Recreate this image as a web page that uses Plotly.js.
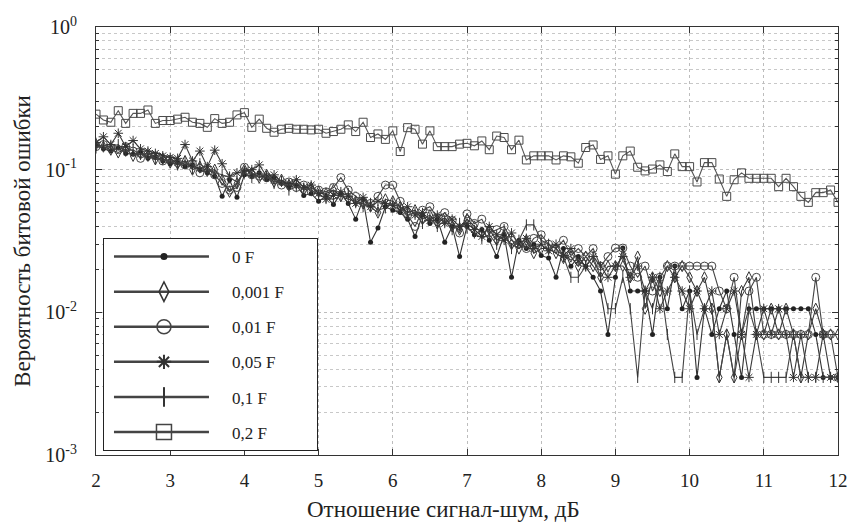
<!DOCTYPE html>
<html>
<head>
<meta charset="utf-8">
<script src="https://cdn.plot.ly/plotly-3.0.1.min.js"></script>
<style>html,body{margin:0;padding:0;background:#fff;}#chart{width:850px;height:524px;}</style>
</head>
<body>
<div id="chart"></div>
<script>
// SNR, dB
const snr = [2.0,2.1,2.2,2.3,2.4,2.5,2.6,2.7,2.8,2.9,3.0,3.1,3.2,3.3,3.4,3.5,3.6,3.7,3.8,3.9,
  4.0,4.1,4.2,4.3,4.4,4.5,4.6,4.7,4.8,4.9,5.0,5.1,5.2,5.3,5.4,5.5,5.6,5.7,5.8,5.9,
  6.0,6.1,6.2,6.3,6.4,6.5,6.6,6.7,6.8,6.9,7.0,7.1,7.2,7.3,7.4,7.5,7.6,7.7,7.8,7.9,
  8.0,8.1,8.2,8.3,8.4,8.5,8.6,8.7,8.8,8.9,9.0,9.1,9.2,9.3,9.4,9.5,9.6,9.7,9.8,9.9,
  10.0,10.1,10.2,10.3,10.4,10.5,10.6,10.7,10.8,10.9,11.0,11.1,11.2,11.3,11.4,11.5,11.6,11.7,11.8,11.9,12.0];

const seriesNames = ['0 F','0,001 F','0,01 F','0,05 F','0,1 F','0,2 F'];
const xTitle = 'Отношение сигнал-шум, дБ';
const yTitle = 'Вероятность битовой ошибки';

const ber_0 = [0.148,0.140,0.135,0.142,0.130,0.128,0.132,0.120,0.122,0.115,0.110,
  0.112,0.105,0.108,0.100,0.095,0.090,0.065,0.085,0.064,0.092,
  0.090,0.095,0.085,0.088,0.080,0.075,0.078,0.066,0.068,0.060,
  0.065,0.057,0.068,0.058,0.045,0.062,0.031,0.039,0.055,0.052,
  0.050,0.045,0.034,0.048,0.042,0.045,0.031,0.040,0.0246,0.040,
  0.035,0.038,0.032,0.0246,0.035,0.0176,0.032,0.028,0.030,0.025,
  0.024,0.0176,0.028,0.021,0.0246,0.021,0.0176,0.0141,0.0070,0.0176,
  0.0282,0.0141,0.0141,0.0141,0.0070,0.0176,0.0106,0.0211,0.0106,0.0141,
  0.0035,0.0106,0.0070,0.0106,0.0141,0.0070,0.0035,0.0106,0.0106,0.0106,
  0.0106,0.0106,0.0106,0.0106,0.0106,0.0106,0.0070,0.0035,0.0035,0.0035];

const ber_0001 = [0.150,0.145,0.138,0.132,0.140,0.125,0.130,0.125,0.118,0.120,0.112,
  0.110,0.115,0.100,0.105,0.098,0.100,0.085,0.070,0.080,0.100,
  0.095,0.088,0.092,0.082,0.085,0.078,0.080,0.072,0.075,0.070,
  0.068,0.072,0.065,0.062,0.060,0.058,0.055,0.050,0.062,0.060,
  0.055,0.050,0.052,0.045,0.048,0.042,0.046,0.040,0.038,0.045,
  0.040,0.036,0.038,0.032,0.034,0.030,0.028,0.032,0.026,0.028,
  0.028,0.026,0.024,0.0246,0.021,0.0246,0.0211,0.0176,0.021,0.0211,
  0.0211,0.0176,0.0246,0.0106,0.0176,0.0141,0.0211,0.0176,0.0211,0.0176,
  0.0141,0.0176,0.0106,0.0035,0.0070,0.0035,0.0141,0.0176,0.0070,0.0070,
  0.0106,0.0070,0.0106,0.0070,0.0035,0.0070,0.0106,0.0070,0.0070,0.0070];

const ber_001 = [0.145,0.150,0.142,0.138,0.145,0.135,0.120,0.128,0.125,0.115,0.118,
  0.112,0.108,0.110,0.095,0.102,0.092,0.080,0.072,0.075,0.104,
  0.092,0.090,0.088,0.085,0.078,0.082,0.075,0.078,0.070,0.072,
  0.070,0.075,0.088,0.072,0.065,0.060,0.058,0.065,0.078,0.078,
  0.060,0.048,0.040,0.052,0.055,0.046,0.050,0.044,0.036,0.049,
  0.042,0.045,0.036,0.038,0.040,0.032,0.030,0.028,0.033,0.035,
  0.030,0.028,0.032,0.025,0.028,0.0246,0.028,0.0211,0.0246,0.0282,
  0.0282,0.0211,0.0176,0.0211,0.0141,0.0176,0.0211,0.0211,0.0211,0.0211,
  0.0211,0.0211,0.0211,0.0141,0.0106,0.0176,0.0070,0.0141,0.0176,0.0070,
  0.0070,0.0070,0.0070,0.0070,0.0070,0.0070,0.0176,0.0070,0.0070,0.0035];

const ber_005 = [0.155,0.170,0.150,0.180,0.145,0.160,0.140,0.135,0.130,0.125,0.122,
  0.120,0.150,0.115,0.135,0.105,0.137,0.110,0.090,0.095,0.098,
  0.100,0.108,0.090,0.092,0.082,0.080,0.085,0.075,0.078,0.068,
  0.062,0.066,0.070,0.065,0.058,0.064,0.055,0.060,0.058,0.056,
  0.052,0.055,0.048,0.050,0.044,0.048,0.042,0.045,0.040,0.042,
  0.038,0.034,0.040,0.035,0.032,0.036,0.030,0.033,0.028,0.030,
  0.027,0.030,0.025,0.028,0.023,0.0211,0.0246,0.0211,0.0176,0.0211,
  0.0246,0.0176,0.0211,0.0141,0.0176,0.0106,0.0141,0.0176,0.0141,0.0106,
  0.0141,0.0106,0.0141,0.0070,0.0106,0.0141,0.0070,0.0035,0.0070,0.0106,
  0.0070,0.0106,0.0070,0.0035,0.0070,0.0035,0.0035,0.0070,0.0035,0.0035];

const ber_01 = [0.142,0.148,0.145,0.150,0.135,0.138,0.128,0.130,0.120,0.118,0.115,
  0.108,0.112,0.102,0.110,0.100,0.095,0.092,0.088,0.082,0.095,
  0.088,0.092,0.090,0.080,0.083,0.072,0.076,0.074,0.072,0.066,
  0.064,0.062,0.066,0.068,0.060,0.055,0.058,0.052,0.054,0.058,
  0.054,0.048,0.050,0.042,0.046,0.040,0.044,0.038,0.042,0.039,
  0.036,0.033,0.035,0.030,0.038,0.028,0.032,0.041,0.041,0.032,
  0.030,0.028,0.0246,0.0176,0.0176,0.0211,0.0246,0.0176,0.0106,0.0106,
  0.0176,0.0106,0.0035,0.0141,0.0106,0.0176,0.0070,0.0035,0.0035,0.0141,
  0.0070,0.0106,0.0106,0.0035,0.0070,0.0035,0.0070,0.0106,0.0070,0.0035,
  0.0035,0.0035,0.0035,0.0070,0.0035,0.0035,0.0035,0.0035,0.0035,0.0035];

const ber_02 = [0.245,0.223,0.215,0.259,0.211,0.248,0.248,0.262,0.211,0.221,0.221,
  0.226,0.233,0.215,0.211,0.198,0.228,0.211,0.215,0.242,0.251,
  0.198,0.226,0.195,0.183,0.192,0.195,0.192,0.192,0.190,0.192,
  0.180,0.185,0.192,0.206,0.185,0.215,0.168,0.178,0.163,0.187,
  0.134,0.197,0.192,0.151,0.187,0.145,0.145,0.145,0.151,0.153,
  0.147,0.159,0.138,0.172,0.168,0.138,0.161,0.117,0.125,0.125,
  0.125,0.117,0.125,0.123,0.111,0.143,0.149,0.118,0.125,0.093,
  0.125,0.135,0.104,0.098,0.101,0.108,0.097,0.129,0.105,0.105,
  0.082,0.112,0.112,0.086,0.065,0.085,0.095,0.087,0.087,0.087,
  0.087,0.076,0.087,0.076,0.065,0.059,0.069,0.069,0.072,0.059];

const xTickVals = [2,3,4,5,6,7,8,9,10,11,12];
const yTickVals = [0.001,0.01,0.1,1];
const yTickText = ['10<sup>-3</sup>','10<sup>-2</sup>','10<sup>-1</sup>','10<sup>0</sup>'];
const yMinorVals = [0.002,0.003,0.004,0.005,0.006,0.007,0.008,0.009,
  0.02,0.03,0.04,0.05,0.06,0.07,0.08,0.09,
  0.2,0.3,0.4,0.5,0.6,0.7,0.8,0.9];

const allSeries = [ber_0, ber_0001, ber_001, ber_005, ber_01, ber_02];
const markerStyles = [
  {symbol:'circle', size:5, color:'#222'},
  {symbol:'diamond-tall-open', size:8, color:'#333', line:{width:1,color:'#333'}},
  {symbol:'circle-open', size:8, color:'#444', line:{width:1,color:'#444'}},
  {symbol:'asterisk-open', size:8, color:'#333', line:{width:1,color:'#333'}},
  {symbol:'line-ns-open', size:8, color:'#333', line:{width:1,color:'#333'}},
  {symbol:'square-open', size:8, color:'#4a4a4a', line:{width:1,color:'#4a4a4a'}}
];
const legendMarkers = [
  {symbol:'circle', size:7, color:'#222'},
  {symbol:'diamond-tall-open', size:14, color:'#333', line:{width:1.5,color:'#333'}},
  {symbol:'circle-open', size:14, color:'#444', line:{width:1.5,color:'#444'}},
  {symbol:'asterisk-open', size:12, color:'#333', line:{width:2,color:'#333'}},
  {symbol:'line-ns-open', size:14, color:'#333', line:{width:2,color:'#333'}},
  {symbol:'square-open', size:15, color:'#444', line:{width:1.5,color:'#444'}}
];
const lineColors = ['#333','#3a3a3a','#444','#3a3a3a','#444','#555'];

const traces = [];
allSeries.forEach((ys, i) => {
  traces.push({
    x: snr, y: ys, type:'scatter', mode:'lines+markers',
    name: seriesNames[i], showlegend:false,
    line:{color: lineColors[i], width:1.1},
    marker: markerStyles[i]
  });
});
seriesNames.forEach((nm, i) => {
  traces.push({
    x:[null], y:[null], type:'scatter', mode:'lines+markers',
    name: nm, legendgroup: 'g'+i, showlegend:true,
    line:{color:'#444', width:2.5},
    marker: legendMarkers[i], hoverinfo:'skip'
  });
});

const serif = "'Liberation Serif', 'Times New Roman', serif";
const layout = {
  width:850, height:524,
  margin:{l:96, r:12, t:27, b:69},
  paper_bgcolor:'#fff', plot_bgcolor:'#fff',
  font:{family:serif, color:'#222', size:18},
  showlegend:true,
  legend:{
    x:0.0094, y:0.507, xanchor:'left', yanchor:'top',
    bgcolor:'#fff', bordercolor:'#222', borderwidth:1,
    font:{family:serif, size:17, color:'#222'},
    itemwidth:118, traceorder:'grouped', tracegroupgap:10
  },
  annotations:[{
    text: xTitle, xref:'paper', yref:'paper', x:0.468, y:-0.1285,
    xanchor:'center', yanchor:'middle', showarrow:false,
    font:{family:serif, size:23, color:'#222'}
  }],
  xaxis:{
    type:'linear', range:[2,12], tickvals:xTickVals,
    ticks:'inside', ticklen:6, tickcolor:'#333', mirror:'ticks',
    showline:true, linecolor:'#333', linewidth:1,
    showgrid:true, gridcolor:'#bdbdbd', griddash:'dot', gridwidth:1,
    zeroline:false, tickfont:{family:serif, size:19}, ticklabelstandoff:8
  },
  yaxis:{
    type:'log', range:[-3,0], tickvals:yTickVals, ticktext:yTickText,
    ticks:'inside', ticklen:6, tickcolor:'#333', mirror:'ticks',
    showline:true, linecolor:'#333', linewidth:1,
    showgrid:true, gridcolor:'#bdbdbd', griddash:'dot', gridwidth:1,
    zeroline:false, tickfont:{family:serif, size:20}, ticklabelstandoff:14,
    minor:{tickmode:'array', tickvals:yMinorVals, ticks:'inside', ticklen:3, tickcolor:'#333',
      showgrid:true, gridcolor:'#c8c8c8', griddash:'dot', gridwidth:1},
    title:{text: yTitle, font:{family:serif, size:23}, standoff:8}
  }
};

const gd = document.getElementById('chart');
Plotly.newPlot(gd, traces, layout, {displayModeBar:false, staticPlot:true}).then(() => {
  // lengthen legend line samples and centre the symbols on them (MATLAB-style legend)
  gd.querySelectorAll('.legend .traces').forEach(tr => {
    tr.querySelectorAll('.legendlines path').forEach(p => p.setAttribute('d', 'M10,0h95'));
    tr.querySelectorAll('.legendpoints path').forEach(p => p.setAttribute('transform', 'translate(60,0)'));
  });
  const bg = gd.querySelector('.legend rect.bg');
  if (bg) bg.setAttribute('width', '214');
});
</script>
</body>
</html>
